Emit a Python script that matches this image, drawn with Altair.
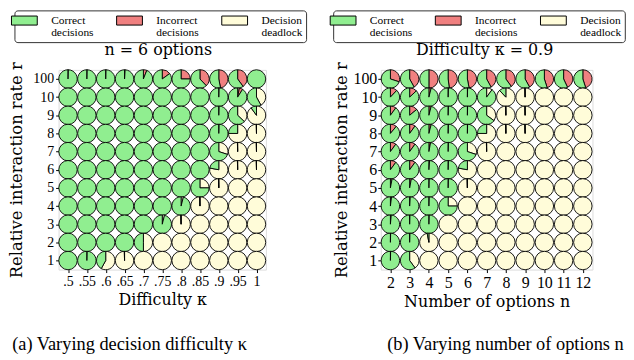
import math
import altair as alt
import pandas as pd

FONT = "Liberation Serif, Times New Roman, serif"
FONT_CM = "DejaVu Serif, serif"

OUTCOMES = ["Correct decisions", "Incorrect decisions", "Decision deadlock"]
COLORS = ["#90ee90", "#f08080", "#fffcd9"]
# clockwise order from 12 o'clock
ORDER = {"Decision deadlock": 0, "Incorrect decisions": 1, "Correct decisions": 2}

rates = ["100", "10", "9", "8", "7", "6", "5", "4", "3", "2", "1"]
kappas = [".5", ".55", ".6", ".65", ".7", ".75", ".8", ".85", ".9", ".95", "1"]
options = ["2", "3", "4", "5", "6", "7", "8", "9", "10", "11", "12"]

t = 0.004  # barely visible share (shows as a thin line)

# Panel (a): n = 6 options, rows = rates (top to bottom), columns = kappas
incorrect_a = [
    [t, t, t, 0.01, 0.06, 0.15, 0.25, 0.38, 0.47, 0.40, 0],
    [0, 0, 0, 0, 0, 0, 0, 0, 0, 0.06, 0],
    [0, 0, 0, 0, 0, 0, 0, 0, 0, 0, 0],
    [0, 0, 0, 0, 0, 0, 0, 0, 0, 0, 0],
    [0, 0, 0, 0, 0, 0, 0, 0, 0, 0, 0],
    [0, 0, 0, 0, 0, 0, 0, 0, 0, 0, 0],
    [0, 0, 0, 0, 0, 0, 0, 0, 0, 0, 0],
    [0, 0, 0, 0, 0, 0, 0, 0, 0, 0, 0],
    [0, 0, 0, 0, 0, 0, 0, 0, 0, 0, 0],
    [0, 0, 0, 0, 0, 0, 0, 0, 0, 0, 0],
    [0, 0, 0, 0, 0, 0, 0, 0, 0, 0, 0],
]
deadlock_a = [
    [0, 0, 0, 0, 0, 0, 0, 0, 0, 0, 0],
    [0, 0, 0, 0, 0, 0, 0, 0, t, 0.03, 0.42],
    [0, 0, 0, 0, 0, 0, 0, 0, t, 0.37, 0.90],
    [0, 0, 0, 0, 0, 0, 0, 0, t, 0.75, 1 - t],
    [0, 0, 0, 0, 0, 0, 0, 0, 0.30, 1 - t, 1 - t],
    [0, 0, 0, 0, 0, 0, 0, 0, 0.78, 1 - t, 1 - t],
    [0, 0, 0, 0, 0, 0, 0, 0.25, 1 - t, 1, 1],
    [0, 0, 0, 0, 0, 0, 0.04, 1 - t, 1, 1, 1],
    [0, 0, 0, 0, 0, 0.04, 1 - t, 1, 1, 1, 1],
    [0, 0, 0, 0, 0.5, 1, 1, 1, 1, 1, 1],
    [0, t, 0.58, 1 - t, 1, 1, 1, 1, 1, 1, 1],
]

# Panel (b): difficulty kappa = 0.9, columns = number of options
incorrect_b = [
    [0.30, 0.42, 0.50, 0.48, 0.47, 0.42, 0.40, 0.42, 0.45, 0.43, 0.45],
    [0.12, 0.13, 0.04, t, t, 0, 0, 0, 0, 0, 0],
    [0.10, 0.14, 0.04, t, t, 0, 0, 0, 0, 0, 0],
    [0.11, 0.10, 0.04, t, t, 0, 0, 0, 0, 0, 0],
    [0.10, 0.10, 0.03, t, 0, 0, 0, 0, 0, 0, 0],
    [0.10, 0.10, 0.01, t, 0, 0, 0, 0, 0, 0, 0],
    [0.03, 0.03, t, t, 0, 0, 0, 0, 0, 0, 0],
    [0.02, 0.01, t, 0, 0, 0, 0, 0, 0, 0, 0],
    [0.015, t, t, 0, 0, 0, 0, 0, 0, 0, 0],
    [t, t, 0, 0, 0, 0, 0, 0, 0, 0, 0],
    [t, 0, 0, 0, 0, 0, 0, 0, 0, 0, 0],
]
deadlock_b = [
    [0, 0, 0, 0, 0, 0, 0, 0, 0, 0, 0],
    [0, 0, 0, 0, 0, 0.10, 0.88, 1 - t, 1, 1, 1],
    [0, 0, 0, 0, 0, 0.35, 1 - t, 1 - t, 1, 1, 1],
    [0, 0, 0, 0, 0, 0.75, 1 - t, 1 - t, 1, 1, 1],
    [0, 0, 0, 0, 0.30, 1 - t, 1, 1, 1, 1, 1],
    [0, 0, 0, 0, 0.78, 1, 1, 1, 1, 1, 1],
    [0, 0, 0, 0, 1 - t, 1, 1, 1, 1, 1, 1],
    [0, 0, 0, 0.25, 1, 1, 1, 1, 1, 1, 1],
    [0, 0, 0, 1, 1, 1, 1, 1, 1, 1, 1],
    [0, 0, 0.97, 1, 1, 1, 1, 1, 1, 1, 1],
    [0, 0.40, 1, 1, 1, 1, 1, 1, 1, 1, 1],
]


def build(cols, incorrect, deadlock):
    recs = []
    for i, r in enumerate(rates):
        for j, c in enumerate(cols):
            red = incorrect[i][j]
            yel = deadlock[i][j]
            grn = max(0.0, 1.0 - red - yel)
            for name, v in (("Decision deadlock", yel), ("Incorrect decisions", red),
                            ("Correct decisions", grn)):
                if v > 1e-9:
                    recs.append({"r": r, "c": c, "outcome": name, "value": v,
                                 "order": ORDER[name]})
    return pd.DataFrame(recs)


def panel(df, cols, width, title, title_x, xtitle, caption, cap_x, legend_x,
          label_size, ytitle_x, ylabel_pad):
    pies = alt.Chart(df).transform_stack(
        stack="value", groupby=["r", "c"], as_=["t0", "t1"],
        sort=[alt.SortField("order", order="ascending")],
    ).mark_arc(radius=9.3, stroke="black", strokeWidth=0.9).encode(
        x=alt.X("c:O", sort=cols, scale=alt.Scale(type="point", padding=0.5),
                axis=alt.Axis(title=xtitle, labelAngle=0, labelFont=FONT,
                              labelFontSize=label_size, labelColor="black",
                              titleFont=FONT_CM, titleFontSize=16,
                              titleFontWeight="normal", titleColor="black",
                              titlePadding=3, domain=False, tickSize=3,
                              tickColor="black", labelPadding=2, grid=False)),
        y=alt.Y("r:O", sort=rates, scale=alt.Scale(type="point", padding=0.5),
                axis=alt.Axis(title="Relative interaction rate r", labelFont=FONT,
                              labelFontSize=label_size, labelColor="black",
                              titleFont=FONT_CM, titleFontSize=16.5,
                              titleFontWeight="normal", titleColor="black",
                              titleX=ytitle_x, domain=False, tickSize=3,
                              tickColor="black", labelPadding=ylabel_pad,
                              grid=False)),
        theta=alt.Theta("t0:Q", stack=False,
                        scale=alt.Scale(domain=[0, 1], range=[0, 2 * math.pi])),
        theta2="t1:Q",
        color=alt.Color("outcome:N",
                        scale=alt.Scale(domain=OUTCOMES, range=COLORS),
                        legend=alt.Legend(
                            title=None, orient="none", legendX=legend_x,
                            legendY=-60, direction="horizontal",
                            symbolType="M-2,-0.7H2V0.7H-2Z", symbolSize=169,
                            symbolStrokeColor="black", symbolStrokeWidth=1,
                            labelFont=FONT, labelFontSize=11.5, labelColor="black",
                            labelExpr="split(datum.label, ' ')", labelOffset=20,
                            columnPadding=21, padding=3, strokeColor="#333",
                            cornerRadius=3)),
    )
    titles = pd.DataFrame({"txt": [title], "px": [title_x], "py": [-20]})
    caps = pd.DataFrame({"txt": [caption], "px": [cap_x], "py": [276]})
    tl_title = alt.Chart(titles).mark_text(
        font=FONT_CM, fontSize=16, align="center", baseline="middle", color="black"
    ).encode(x=alt.X("px:Q", scale=None), y=alt.Y("py:Q", scale=None), text="txt:N")
    tl_cap = alt.Chart(caps).mark_text(
        font=FONT, fontSize=18.5, align="center", baseline="middle", color="black"
    ).encode(x=alt.X("px:Q", scale=None), y=alt.Y("py:Q", scale=None), text="txt:N")
    return alt.layer(pies, tl_title, tl_cap).properties(width=width, height=201.3)


df_a = build(kappas, incorrect_a, deadlock_a)
df_b = build(options, incorrect_b, deadlock_b)

pa = panel(df_a, kappas, 209, "n = 6 options", 100.5, "Difficulty κ",
           "(a) Varying decision difficulty κ", 71.5, -44.5, 14, -34, 2)
pb = panel(df_b, options, 213.4, "Difficulty κ = 0.9", 104.7, "Number of options n",
           "(b) Varying number of options n", 125.7, -48, 16, -31.5, 1)

chart = alt.hconcat(pa, pb, spacing=115.8, bounds="flush").resolve_scale(
    color="independent"
).properties(padding=0).configure_view(strokeWidth=0).configure(
    style={"guide-label": {"lineHeight": 13}}
)

chart.save("out.html", embed_options={"renderer": "svg", "actions": False})
